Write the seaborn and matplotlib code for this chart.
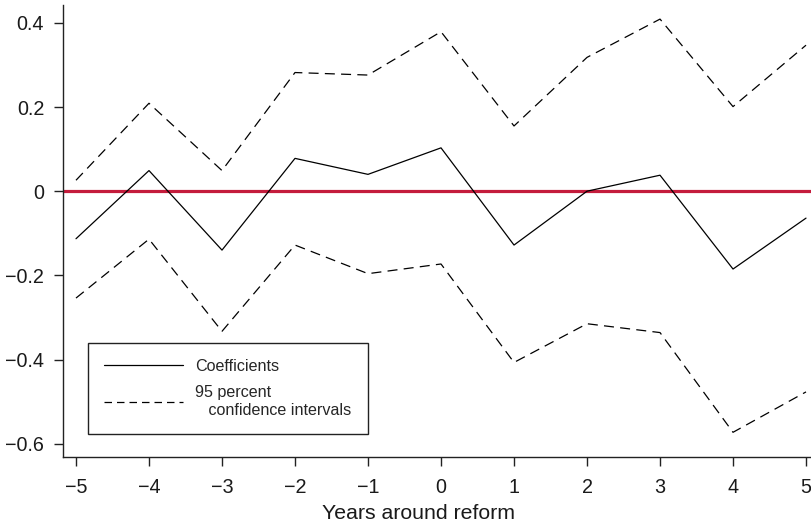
import matplotlib
matplotlib.use("Agg")
import matplotlib.pyplot as plt
import seaborn as sns
import numpy as np

years = [-5, -4, -3, -2, -1, 0, 1, 2, 3, 4, 5]
coef = [-0.113, 0.049, -0.140, 0.078, 0.040, 0.103, -0.128, 0.000, 0.038, -0.185, -0.064]
upper = [0.026, 0.209, 0.049, 0.282, 0.276, 0.379, 0.155, 0.318, 0.409, 0.201, 0.347]
lower = [-0.254, -0.114, -0.333, -0.128, -0.196, -0.173, -0.407, -0.315, -0.336, -0.573, -0.477]
yticks = [-0.6, -0.4, -0.2, 0.0, 0.2, 0.4]
ytick_labels = ["\u22120.6", "\u22120.4", "\u22120.2", "0", "0.2", "0.4"]
xtick_labels = ["\u22125", "\u22124", "\u22123", "\u22122", "\u22121", "0", "1", "2", "3", "4", "5"]

sns.set_style("ticks")
plt.rcParams['font.family'] = ['Liberation Sans', 'DejaVu Sans']
plt.rcParams['axes.unicode_minus'] = True

fig = plt.figure(figsize=(8.12, 5.27), dpi=100)
ax = fig.add_axes([63/812, 1-456.7/527, 749/812, (456.7-5)/527])

ax.axhline(0, color='#c41c3c', lw=2.3, zorder=1)
sns.lineplot(x=years, y=coef, ax=ax, color='black', lw=0.9, label='Coefficients', zorder=3)
sns.lineplot(x=years, y=upper, ax=ax, color='black', lw=0.9,
             label='95 percent\n   confidence intervals', zorder=3)
sns.lineplot(x=years, y=lower, ax=ax, color='black', lw=0.9, zorder=3)
for ln in ax.lines[2:]:
    ln.set_dashes((8, 5))

ax.set_xlim(-5.178, 5.082)
ax.set_ylim(-0.631, 0.4425)
ax.set_xticks(years)
ax.set_xticklabels(xtick_labels)
ax.set_yticks(yticks)
ax.set_yticklabels(ytick_labels)
for s in ['top', 'right']:
    ax.spines[s].set_visible(False)
for s in ['left', 'bottom']:
    ax.spines[s].set_linewidth(1.0)
    ax.spines[s].set_color('#222222')
ax.tick_params(axis='both', direction='out', length=6.5, width=1.0, color='#222222',
               labelsize=14.2, labelcolor='#1a1a1a')
ax.tick_params(axis='y', pad=7)
ax.tick_params(axis='x', pad=9)
ax.set_xlabel('Years around reform', fontsize=15.3, color='#1a1a1a')
ax.set_ylabel('')
ax.xaxis.set_label_coords(0.474, -0.105)

leg = ax.legend(loc='lower left', bbox_to_anchor=(0.0338, 0.051), borderaxespad=0,
                fontsize=11.6, frameon=True, fancybox=False, handlelength=4.9,
                handletextpad=0.75, borderpad=1.0, labelspacing=0.7)
fr = leg.get_frame()
fr.set_edgecolor('#222222')
fr.set_linewidth(1.0)
fr.set_alpha(1)
for h in leg.get_lines():
    h.set_linewidth(0.9)
leg.get_lines()[1].set_dashes((6, 4))

fig.savefig('out.png', dpi=100)
